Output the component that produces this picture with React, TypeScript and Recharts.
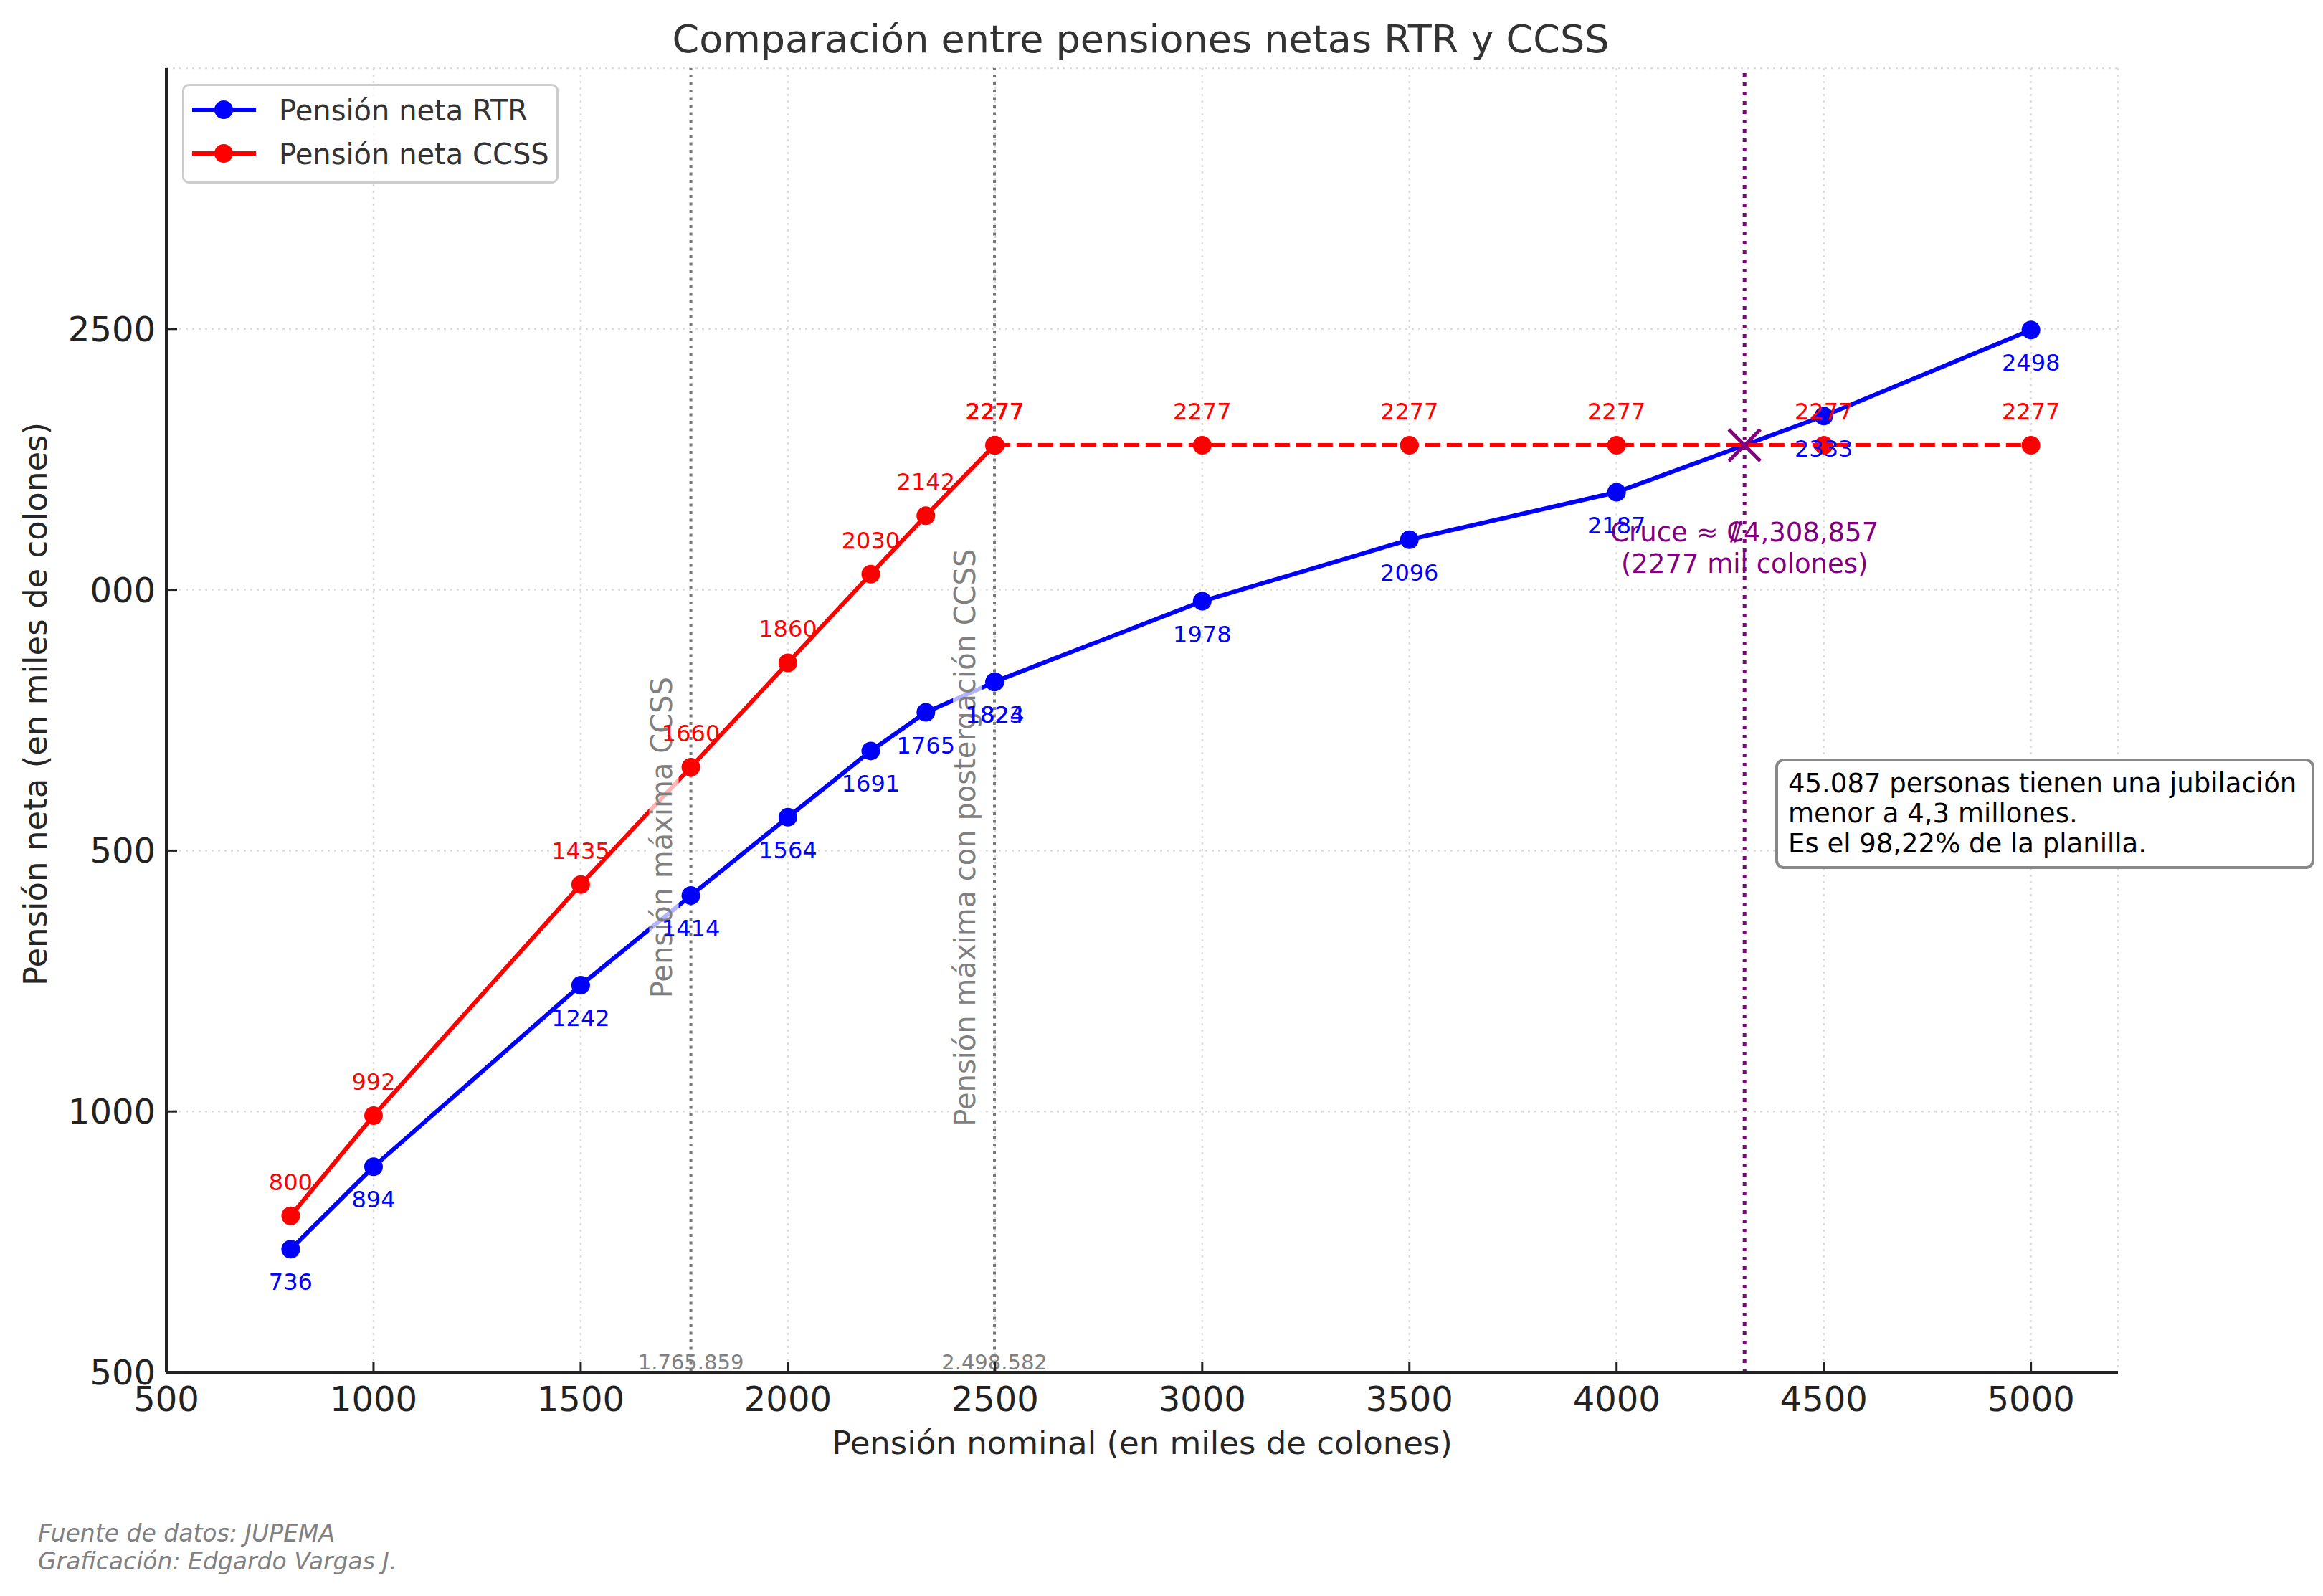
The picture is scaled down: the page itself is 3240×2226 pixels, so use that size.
import React from 'react';
import {
  ComposedChart,
  Line,
  Scatter,
  XAxis,
  YAxis,
  CartesianGrid,
  ReferenceLine,
  Legend,
  LabelList,
} from 'recharts';

// ---------- data ----------
const pensionNominal = [800, 1000, 1500, 1765.859, 2000, 2200, 2333, 2498.582, 2500, 3000, 3500, 4000, 4500, 5000];
const netaRTR = [736, 894, 1242, 1414, 1564, 1691, 1765, 1823, 1824, 1978, 2096, 2187, 2333, 2498];
const netaCCSS = [800, 992, 1435, 1660, 1860, 2030, 2142, 2277, 2277, 2277, 2277, 2277, 2277, 2277];
const ccssCapIndex = 8; // from here on the CCSS pension is capped (dashed)

const xTicks = [500, 1000, 1500, 2000, 2500, 3000, 3500, 4000, 4500, 5000];
const yTicks = [500, 1000, 1500, 2000, 2500];
const yTickLabels = ['500', '1000', '500', '000', '2500'];

const pensionMaxima = 1765.859;
const pensionMaximaLabel = '1.765.859';
const pensionMaximaPost = 2498.582;
const pensionMaximaPostLabel = '2.498.582';
const cruceX = 4308.857;
const cruceY = 2277;

const seriesNames = ['Pensión neta RTR', 'Pensión neta CCSS'];
const seriesColors = ['#0000ff', '#ff0000'];

const rtrData = pensionNominal.map((x, i) => ({ x, y: netaRTR[i] }));
const ccssAll = pensionNominal.map((x, i) => ({ x, y: netaCCSS[i] }));
const ccssSolid = ccssAll.slice(0, ccssCapIndex + 1);
const ccssDashed = ccssAll.slice(ccssCapIndex);
const cruceData = [{ x: cruceX, y: cruceY }];

const FONT = "'DejaVu Sans', Verdana, sans-serif";

// ---------- renderers ----------
const getXY = (p: any) => {
  const x = p.x ?? p.viewBox?.x;
  const y = p.y ?? p.viewBox?.y;
  return { x, y };
};

const redLabel = (p: any) => {
  const { x, y } = getXY(p);
  if (x == null || y == null) return null;
  return (
    <text x={x} y={y - 36} textAnchor="middle" fill="#ff0000" fontSize={32} fontFamily={FONT}>
      {p.value}
    </text>
  );
};

const blueLabel = (p: any) => {
  const { x, y } = getXY(p);
  if (x == null || y == null) return null;
  return (
    <text x={x} y={y + 57} textAnchor="middle" fill="#0000ff" fontSize={32} fontFamily={FONT}>
      {p.value}
    </text>
  );
};

const makeRefLabel = (text: string, valueText: string, textLen: number) => (props: any) => {
  const vb = props.viewBox || {};
  const x = vb.x;
  const top = vb.y;
  const h = vb.height;
  const ax = x - 27;
  const cy = top + h * 0.59;
  return (
    <g>
      <rect x={ax - 31} y={cy - textLen / 2 - 4} width={41} height={textLen + 8} fill="#ffffff" fillOpacity={0.7} />
      <text
        x={ax}
        y={cy}
        transform={`rotate(-90 ${ax} ${cy})`}
        textAnchor="middle"
        fontSize={40}
        fill="#808080"
        fontFamily={FONT}
      >
        {text}
      </text>
      <text x={x} y={top + h - 4} textAnchor="middle" fontSize={29} fill="#808080" fontFamily={FONT}>
        {valueText}
      </text>
    </g>
  );
};

const cruceShape = (p: any) => {
  const { cx, cy } = p;
  if (cx == null || cy == null) return null;
  const s = 22;
  const pesos = Math.round(cruceX * 1000).toLocaleString('en-US');
  return (
    <g>
      <line x1={cx - s} y1={cy - s} x2={cx + s} y2={cy + s} stroke="#800080" strokeWidth={5} />
      <line x1={cx - s} y1={cy + s} x2={cx + s} y2={cy - s} stroke="#800080" strokeWidth={5} />
      <text x={cx} y={cy + 134} textAnchor="middle" fontSize={37} fill="#800080" fontFamily={FONT}>
        {`Cruce ≈ ₡${pesos}`}
      </text>
      <text x={cx} y={cy + 178} textAnchor="middle" fontSize={37} fill="#800080" fontFamily={FONT}>
        {`(${cruceY} mil colones)`}
      </text>
    </g>
  );
};

const renderLegend = () => (
  <svg width={525} height={139} style={{ display: 'block', overflow: 'visible' }}>
    <rect x={1.5} y={1.5} width={522} height={136} rx={8} ry={8} fill="#ffffff" fillOpacity={0.8} stroke="#cccccc" strokeWidth={3} />
    {seriesNames.map((name, i) => {
      const cy = 36 + i * 61;
      return (
        <g key={name}>
          <line x1={14} x2={103} y1={cy} y2={cy} stroke={seriesColors[i]} strokeWidth={6} />
          <circle cx={58} cy={cy} r={13} fill={seriesColors[i]} />
          <text x={135} y={cy + 15} fontSize={40} fill="#333333" fontFamily={FONT}>
            {name}
          </text>
        </g>
      );
    })}
  </svg>
);

export default function App() {
  return (
    <div style={{ position: 'relative', width: 3240, height: 2226, background: '#ffffff', overflow: 'hidden' }}>
      <style>{'body{margin:0;background:#fff;}'}</style>
      <ComposedChart
        width={3240}
        height={2226}
        margin={{ top: 95, right: 286, bottom: 0, left: 0 }}
      >
        <CartesianGrid stroke="#dcdcdc" strokeDasharray="3 6" strokeWidth={2.5} />
        <XAxis
          type="number"
          dataKey="x"
          domain={[500, 5210]}
          ticks={xTicks}
          interval={0}
          allowDataOverflow
          height={312}
          tickSize={-15}
          tickMargin={35}
          axisLine={{ stroke: '#222222', strokeWidth: 4 }}
          tickLine={{ stroke: '#222222', strokeWidth: 3 }}
          tick={{ fontSize: 48, fill: '#222222', fontFamily: FONT }}
        />
        <YAxis
          type="number"
          dataKey="y"
          domain={[500, 3000]}
          ticks={yTicks}
          interval={0}
          allowDataOverflow
          width={232}
          tickSize={-15}
          tickMargin={30}
          tickFormatter={(v: number) => yTickLabels[yTicks.indexOf(v)] ?? String(v)}
          axisLine={{ stroke: '#222222', strokeWidth: 4 }}
          tickLine={{ stroke: '#222222', strokeWidth: 3 }}
          tick={{ fontSize: 48, fill: '#222222', fontFamily: FONT }}
        />
        <Legend
          layout="vertical"
          align="center"
          verticalAlign="middle"
          content={renderLegend}
          wrapperStyle={{ position: 'absolute', left: 254, top: 117, width: 525, height: 139 }}
        />
        <Line
          data={rtrData}
          dataKey="y"
          name={seriesNames[0]}
          stroke={seriesColors[0]}
          strokeWidth={6}
          dot={{ r: 13, fill: seriesColors[0], stroke: 'none' }}
          activeDot={false}
          isAnimationActive={false}
        >
          <LabelList dataKey="y" content={blueLabel} />
        </Line>
        <Line
          data={ccssSolid}
          dataKey="y"
          name={seriesNames[1]}
          stroke={seriesColors[1]}
          strokeWidth={6}
          dot={{ r: 13, fill: seriesColors[1], stroke: 'none' }}
          activeDot={false}
          isAnimationActive={false}
        >
          <LabelList dataKey="y" content={redLabel} />
        </Line>
        <Line
          data={ccssDashed}
          dataKey="y"
          name="CCSS tope"
          legendType="none"
          stroke={seriesColors[1]}
          strokeWidth={6}
          strokeDasharray="21 9"
          dot={{ r: 13, fill: seriesColors[1], stroke: 'none', strokeDasharray: '0' }}
          activeDot={false}
          isAnimationActive={false}
        >
          <LabelList dataKey="y" content={redLabel} />
        </Line>
        <ReferenceLine
          x={pensionMaxima}
          stroke="#777777"
          strokeWidth={4}
          strokeDasharray="4 6.5"
          label={makeRefLabel('Pensión máxima CCSS', pensionMaximaLabel, 456)}
        />
        <ReferenceLine
          x={pensionMaximaPost}
          stroke="#777777"
          strokeWidth={4}
          strokeDasharray="4 6.5"
          label={makeRefLabel('Pensión máxima con postergación CCSS', pensionMaximaPostLabel, 822)}
        />
        <ReferenceLine x={cruceX} stroke="#800080" strokeWidth={5} strokeDasharray="5 8" />
        <Scatter
          data={cruceData}
          dataKey="y"
          legendType="none"
          shape={cruceShape}
          isAnimationActive={false}
        />
      </ComposedChart>

      <svg
        width={3240}
        height={2226}
        style={{ position: 'absolute', left: 0, top: 0, pointerEvents: 'none' }}
      >
        <text x={1591} y={73} textAnchor="middle" fontSize={54} fill="#333333" fontFamily={FONT}>
          Comparación entre pensiones netas RTR y CCSS
        </text>
        <text x={1593} y={2028} textAnchor="middle" fontSize={45} fill="#262626" fontFamily={FONT}>
          Pensión nominal (en miles de colones)
        </text>
        <text
          x={65}
          y={982}
          transform="rotate(-90 65 982)"
          textAnchor="middle"
          fontSize={45}
          fill="#262626"
          fontFamily={FONT}
        >
          Pensión neta (en miles de colones)
        </text>
        <rect x={2478} y={1060} width={748} height={150} rx={10} ry={10} fill="#ffffff" stroke="#888888" strokeWidth={4} />
        <text x={2494} y={1105} fontSize={37} fill="#000000" fontFamily={FONT}>
          45.087 personas tienen una jubilación
        </text>
        <text x={2494} y={1147} fontSize={37} fill="#000000" fontFamily={FONT}>
          menor a 4,3 millones.
        </text>
        <text x={2494} y={1189} fontSize={37} fill="#000000" fontFamily={FONT}>
          Es el 98,22% de la planilla.
        </text>
        <text x={53} y={2150} fontSize={33} fontStyle="italic" fill="#808080" fontFamily={FONT}>
          Fuente de datos: JUPEMA
        </text>
        <text x={53} y={2189} fontSize={33} fontStyle="italic" fill="#808080" fontFamily={FONT}>
          Graficación: Edgardo Vargas J.
        </text>
      </svg>
    </div>
  );
}
